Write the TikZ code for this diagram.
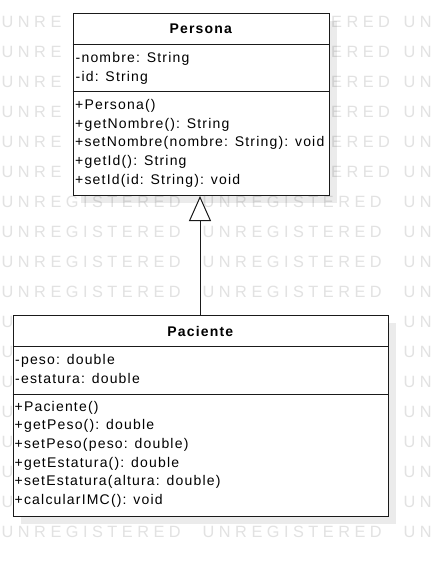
\documentclass[tikz,border=0pt]{standalone}
\usepackage{fontspec}
\setmainfont{Liberation Sans}
\newfontfamily\umlfont[LetterSpace=8.5]{Liberation Sans}
\newfontfamily\wmfont[LetterSpace=27.6]{Liberation Sans}
\usetikzlibrary{arrows.meta}
\definecolor{wmgray}{HTML}{E2E2E2}
\definecolor{boxline}{HTML}{1A1A1A}
\tikzset{
  classbox/.style={draw=boxline, line width=1pt, fill=white, inner sep=0pt, anchor=north west},
  shadowbox/.style={fill=black, fill opacity=0.08, draw=none, inner sep=0pt, anchor=north west},
  divider/.style={draw=boxline, line width=1pt},
  member/.style={anchor=base west, inner sep=0pt, font=\umlfont\fontsize{14}{17}\selectfont},
  title/.style={anchor=base, inner sep=0pt, font=\umlfont\bfseries\fontsize{14}{17}\selectfont},
  watermark/.style={anchor=base west, inner sep=0pt, text=wmgray, font=\wmfont\fontsize{16.3}{18}\selectfont},
  inherit/.style={draw=boxline, line width=1pt, -{Triangle[open, length=25pt, width=22pt, fill=white]}}
}
\begin{document}
\begin{tikzpicture}[x=1pt, y=-1pt]
\fill[white] (0,0) rectangle (438,566);
\useasboundingbox (0,0) rectangle (438,566);
% watermark: rows beside the Persona box
\foreach \r in {0,...,5}{
  \node[watermark] (wmL-\r) at (1.5, 27.3+30*\r) {UNRE};
  \node[watermark] (wmM-\r) at (331, 27.3+30*\r) {ERED};
  \node[watermark] (wmR-\r) at (403.5, 27.3+30*\r) {UN};
}
% watermark: free rows
\foreach \r in {6,7,8,9,17}{
  \node[watermark] (wmA-\r) at (1.5, 27.3+30*\r) {UNREGISTERED};
  \node[watermark] (wmB-\r) at (202.5, 27.3+30*\r) {UNREGISTERED};
  \node[watermark] (wmC-\r) at (403.5, 27.3+30*\r) {UN};
}
% watermark: rows beside the Paciente box
\foreach \r in {10,...,16}{
  \node[watermark] (wmP-\r) at (1.5, 27.3+30*\r) {U};
  \node[watermark] (wmQ-\r) at (403.5, 27.3+30*\r) {UN};
}
% shadows
\node[shadowbox, minimum width=256.5pt, minimum height=182.5pt] (personashadow) at (80.5,20.5) {};
\node[shadowbox, minimum width=375.5pt, minimum height=201pt] (pacienteshadow) at (20.5,323) {};
% Persona
\node[classbox, minimum width=256.5pt, minimum height=182.5pt] (persona) at (72.5,12.5) {};
\draw[divider] (persona.west |- 0,44) -- (persona.east |- 0,44);
\draw[divider] (persona.west |- 0,91.5) -- (persona.east |- 0,91.5);
\node[title] (personatitle) at (200.75,33.3) {Persona};
\node[member] (pa1) at (75.5,62.7) {-nombre: String};
\node[member] (pa2) at (75.5,81.7) {-id: String};
\node[member] (pm1) at (75,109.3) {+Persona()};
\node[member] (pm2) at (75,128.1) {+getNombre(): String};
\node[member] (pm3) at (75,146.8) {+setNombre(nombre: String): void};
\node[member] (pm4) at (75,165.6) {+getId(): String};
\node[member] (pm5) at (75,184.3) {+setId(id: String): void};
% Paciente
\node[classbox, minimum width=375.5pt, minimum height=201pt] (paciente) at (12.5,315) {};
\draw[divider] (paciente.west |- 0,346.5) -- (paciente.east |- 0,346.5);
\draw[divider] (paciente.west |- 0,394) -- (paciente.east |- 0,394);
\node[title] (pacientetitle) at (200.25,336) {Paciente};
\node[member] (ca1) at (15,364.3) {-peso: double};
\node[member] (ca2) at (15,383.3) {-estatura: double};
\node[member] (cm1) at (14.5,411) {+Paciente()};
\node[member] (cm2) at (14.5,429.6) {+getPeso(): double};
\node[member] (cm3) at (14.5,448.3) {+setPeso(peso: double)};
\node[member] (cm4) at (14.5,467) {+getEstatura(): double};
\node[member] (cm5) at (14.5,485.7) {+setEstatura(altura: double)};
\node[member] (cm6) at (14.5,504.3) {+calcularIMC(): void};
% generalization
\draw[inherit] (paciente.north -| 200,0) -- (persona.south -| 200,0);
\end{tikzpicture}
\end{document}
